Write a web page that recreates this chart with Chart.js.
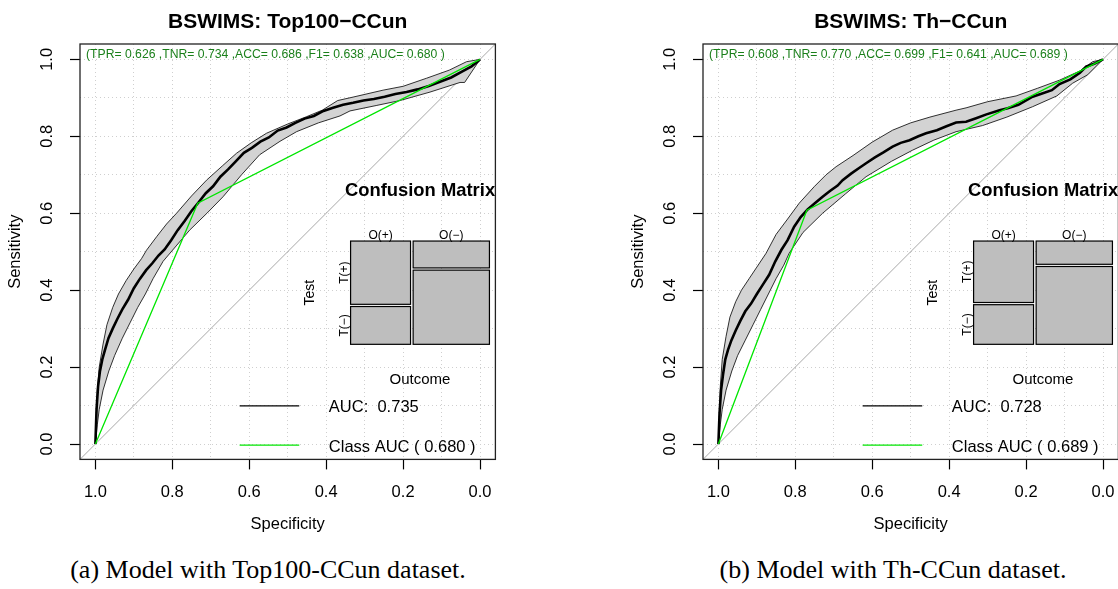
<!DOCTYPE html>
<html>
<head>
<meta charset="utf-8">
<script src="https://cdn.jsdelivr.net/npm/chart.js@4/dist/chart.umd.min.js"></script>
<style>
  html, body { margin: 0; padding: 0; background: #fff; width: 1118px; height: 589px; overflow: hidden; }
  .plot { position: absolute; top: 0; width: 559px; height: 545px; }
  #boxA { left: 0; }
  #boxB { left: 623px; }
  .cap { position: absolute; top: 555px; font-family: "Liberation Serif", "Times New Roman", serif;
         font-size: 26px; line-height: 29px; white-space: nowrap; transform: translateX(-50%); color: #000; }
</style>
</head>
<body>
<div class="plot" id="boxA"><canvas id="rocA" width="559" height="545"></canvas></div>
<div class="plot" id="boxB"><canvas id="rocB" width="559" height="545"></canvas></div>
<div class="cap" style="left:268px">(a) Model with Top100-CCun dataset.</div>
<div class="cap" style="left:893px">(b) Model with Th-CCun dataset.</div>
<script>
// ---- axes ----
var gridVals = [0, 0.1, 0.2, 0.3, 0.4, 0.5, 0.6, 0.7, 0.8, 0.9, 1];
var labelVals = [0, 0.2, 0.4, 0.6, 0.8, 1];

// ---- (a) Top100-CCun ----
var aTitle = 'BSWIMS: Top100\u2212CCun';
var aStats = '(TPR= 0.626 ,TNR= 0.734 ,ACC= 0.686 ,F1= 0.638 ,AUC= 0.680 )';
var aAuc = 'AUC:  0.735';
var aClassAuc = 'Class AUC ( 0.680 )';
var aTpr = 0.626, aTnr = 0.734, aPos = 0.44;
var aSpec = [1, 0.997, 0.993, 0.988, 0.982, 0.975, 0.966, 0.955, 0.943, 0.93, 0.915, 0.9, 0.884, 0.868, 0.852, 0.836, 0.82, 0.803, 0.786, 0.768, 0.75, 0.732, 0.713, 0.694, 0.675, 0.655, 0.635, 0.614, 0.593, 0.571, 0.549, 0.526, 0.503, 0.48, 0.456, 0.432, 0.407, 0.382, 0.356, 0.33, 0.303, 0.276, 0.248, 0.22, 0.191, 0.162, 0.133, 0.104, 0.075, 0.047, 0.022, 0];
var aSens = [0, 0.09, 0.15, 0.19, 0.22, 0.245, 0.275, 0.3, 0.325, 0.35, 0.375, 0.405, 0.43, 0.452, 0.47, 0.49, 0.506, 0.53, 0.556, 0.58, 0.606, 0.628, 0.652, 0.67, 0.695, 0.714, 0.735, 0.757, 0.77, 0.786, 0.797, 0.815, 0.823, 0.835, 0.846, 0.853, 0.866, 0.874, 0.882, 0.887, 0.893, 0.897, 0.903, 0.91, 0.915, 0.922, 0.931, 0.942, 0.953, 0.968, 0.982, 1];
var aUpSpec = [1, 0.995, 0.99, 0.98, 0.97, 0.955, 0.94, 0.92, 0.9, 0.88, 0.867, 0.84, 0.815, 0.789, 0.75, 0.711, 0.67, 0.633, 0.595, 0.555, 0.5, 0.451, 0.41, 0.37, 0.33, 0.252, 0.2, 0.139, 0.08, 0.035, 0];
var aUpSens = [0, 0.14, 0.2, 0.26, 0.31, 0.355, 0.39, 0.425, 0.455, 0.482, 0.504, 0.54, 0.572, 0.6, 0.645, 0.686, 0.723, 0.756, 0.783, 0.808, 0.832, 0.851, 0.868, 0.893, 0.902, 0.92, 0.93, 0.951, 0.972, 0.994, 1];
var aLoSpec = [1, 0.995, 0.99, 0.98, 0.965, 0.95, 0.93, 0.91, 0.89, 0.87, 0.85, 0.824, 0.79, 0.755, 0.71, 0.668, 0.62, 0.573, 0.52, 0.477, 0.42, 0.364, 0.338, 0.27, 0.208, 0.13, 0.052, 0.04, 0];
var aLoSens = [0, 0.05, 0.09, 0.14, 0.19, 0.23, 0.275, 0.315, 0.355, 0.39, 0.43, 0.475, 0.515, 0.556, 0.6, 0.643, 0.7, 0.752, 0.787, 0.812, 0.835, 0.853, 0.866, 0.88, 0.893, 0.915, 0.94, 0.94, 1];

// ---- (b) Th-CCun ----
var bTitle = 'BSWIMS: Th\u2212CCun';
var bStats = '(TPR= 0.608 ,TNR= 0.770 ,ACC= 0.699 ,F1= 0.641 ,AUC= 0.689 )';
var bAuc = 'AUC:  0.728';
var bClassAuc = 'Class AUC ( 0.689 )';
var bTpr = 0.608, bTnr = 0.770, bPos = 0.44;
var bSpec = [1, 0.997, 0.993, 0.988, 0.982, 0.975, 0.966, 0.955, 0.943, 0.93, 0.915, 0.9, 0.884, 0.868, 0.852, 0.836, 0.82, 0.803, 0.786, 0.768, 0.75, 0.729, 0.71, 0.69, 0.677, 0.655, 0.635, 0.616, 0.593, 0.571, 0.547, 0.526, 0.503, 0.48, 0.46, 0.432, 0.407, 0.382, 0.356, 0.33, 0.303, 0.269, 0.248, 0.22, 0.183, 0.162, 0.133, 0.113, 0.085, 0.06, 0.044, 0.02, 0];
var bSens = [0, 0.08, 0.14, 0.18, 0.22, 0.245, 0.27, 0.295, 0.32, 0.345, 0.365, 0.39, 0.415, 0.44, 0.475, 0.505, 0.53, 0.565, 0.59, 0.61, 0.625, 0.643, 0.658, 0.672, 0.686, 0.703, 0.717, 0.73, 0.745, 0.758, 0.773, 0.783, 0.79, 0.8, 0.808, 0.816, 0.826, 0.836, 0.838, 0.847, 0.857, 0.868, 0.873, 0.882, 0.903, 0.91, 0.92, 0.936, 0.948, 0.965, 0.981, 0.99, 1];
var bUpSpec = [1, 0.995, 0.99, 0.98, 0.97, 0.955, 0.94, 0.92, 0.9, 0.876, 0.85, 0.82, 0.79, 0.75, 0.72, 0.694, 0.65, 0.6, 0.547, 0.5, 0.45, 0.382, 0.356, 0.3, 0.226, 0.17, 0.113, 0.06, 0.027, 0];
var bUpSens = [0, 0.15, 0.22, 0.28, 0.33, 0.37, 0.4, 0.43, 0.46, 0.496, 0.545, 0.585, 0.626, 0.67, 0.7, 0.721, 0.75, 0.785, 0.816, 0.835, 0.85, 0.868, 0.874, 0.89, 0.905, 0.925, 0.946, 0.97, 0.994, 1];
var bLoSpec = [1, 0.995, 0.99, 0.98, 0.965, 0.95, 0.93, 0.91, 0.89, 0.87, 0.85, 0.83, 0.816, 0.78, 0.729, 0.67, 0.616, 0.55, 0.495, 0.44, 0.382, 0.313, 0.25, 0.183, 0.12, 0.079, 0.04, 0];
var bLoSens = [0, 0.05, 0.09, 0.14, 0.19, 0.23, 0.27, 0.31, 0.35, 0.39, 0.43, 0.465, 0.496, 0.55, 0.6, 0.65, 0.695, 0.735, 0.764, 0.79, 0.812, 0.828, 0.85, 0.877, 0.905, 0.938, 0.96, 1];

// inset / legend placement in axis units
var cmBox = [0.3365, -0.0245, 0.5277, 0.2592];
var legX = [0.625, 0.47, 0.393];
var legY = [0.099, -0.003];

var FONT = '"Liberation Sans", Arial, Helvetica, sans-serif';

function zip(xs, ys) {
  return xs.map(function(v, i) { return {x: v, y: ys[i]}; });
}

var rDecor = {
  id: 'rDecor',
  afterDraw: function(chart, args, o) {
    var ctx = chart.ctx, a = chart.chartArea, x = chart.scales.x, y = chart.scales.y;
    ctx.save();
    ctx.strokeStyle = '#222';
    ctx.lineWidth = 1.3;
    ctx.strokeRect(a.left, a.top, a.right - a.left, a.bottom - a.top);

    // y tick labels, rotated like R
    ctx.fillStyle = '#000';
    ctx.font = '16.5px ' + FONT;
    ctx.textAlign = 'center';
    ctx.textBaseline = 'middle';
    labelVals.forEach(function(v) {
      ctx.save();
      ctx.translate(a.left - 33, y.getPixelForValue(v));
      ctx.rotate(-Math.PI / 2);
      ctx.fillText(v.toFixed(1), 0, 0);
      ctx.restore();
    });

    // stats line
    ctx.fillStyle = '#1a7f1a';
    ctx.font = '12.2px ' + FONT;
    ctx.textAlign = 'left';
    ctx.fillText(o.stats, a.left + 6, a.top + 11);

    // confusion matrix (mosaic)
    var L = x.getPixelForValue(cmBox[0]), R = x.getPixelForValue(cmBox[1]);
    var T = y.getPixelForValue(cmBox[2]), B = y.getPixelForValue(cmBox[3]);
    var gx = 2.6, gy = 2.2;
    var wPos = (R - L - gx) * o.pos;
    var h = B - T - gy;
    var cells = [
      [L, T, wPos, h * o.tpr],
      [L, T + h * o.tpr + gy, wPos, h * (1 - o.tpr)],
      [L + wPos + gx, T, R - L - gx - wPos, h * (1 - o.tnr)],
      [L + wPos + gx, T + h * (1 - o.tnr) + gy, R - L - gx - wPos, h * o.tnr]
    ];
    ctx.fillStyle = '#bebebe';
    ctx.strokeStyle = '#000';
    ctx.lineWidth = 1.2;
    cells.forEach(function(c) {
      ctx.fillRect(c[0], c[1], c[2], c[3]);
      ctx.strokeRect(c[0], c[1], c[2], c[3]);
    });
    ctx.fillStyle = '#000';
    ctx.textAlign = 'center';
    ctx.font = '12px ' + FONT;
    ctx.fillText('O(+)', L + wPos / 2, T - 5.5);
    ctx.fillText('O(\u2212)', L + wPos + gx + (R - L - gx - wPos) / 2, T - 5.5);
    [['T(+)', T + h * o.tpr / 2], ['T(\u2212)', T + h * o.tpr + gy + h * (1 - o.tpr) / 2]].forEach(function(t) {
      ctx.save();
      ctx.translate(L - 6, t[1]);
      ctx.rotate(-Math.PI / 2);
      ctx.fillText(t[0], 0, 0);
      ctx.restore();
    });
    ctx.font = '14px ' + FONT;
    ctx.save();
    ctx.translate(L - 40, (T + B) / 2);
    ctx.rotate(-Math.PI / 2);
    ctx.fillText('Test', 0, 0);
    ctx.restore();
    ctx.font = '15px ' + FONT;
    ctx.fillText('Outcome', (L + R) / 2, B + 36);
    ctx.font = 'bold 18.4px ' + FONT;
    ctx.fillText('Confusion Matrix', (L + R) / 2, T - 50);

    // legend
    var ds = chart.data.datasets;
    [ds[1], ds[0]].forEach(function(d, i) {
      var py = y.getPixelForValue(legY[i]);
      ctx.strokeStyle = d.borderColor;
      ctx.lineWidth = 1.2;
      ctx.beginPath();
      ctx.moveTo(x.getPixelForValue(legX[0]), py);
      ctx.lineTo(x.getPixelForValue(legX[1]), py);
      ctx.stroke();
      ctx.fillStyle = '#000';
      ctx.font = '16.5px ' + FONT;
      ctx.textAlign = 'left';
      ctx.fillText(d.label, x.getPixelForValue(legX[2]), py + 2);
    });
    ctx.restore();
  }
};

function isMajor(v) {
  return Math.round(v * 10) % 2 === 0;
}

function axis(title, reverse, isX) {
  return {
    type: 'linear',
    reverse: reverse,
    min: -0.04,
    max: 1.04,
    afterBuildTicks: function(ax) {
      ax.ticks = gridVals.map(function(v) { return {value: v}; });
    },
    afterFit: function(s) {
      if (isX) s.height = 85.6; else s.width = 80;
    },
    ticks: {
      autoSkip: false,
      maxRotation: 0,
      padding: 13,
      color: '#000',
      font: {family: FONT, size: 16.5},
      callback: function(v) { return (isX && isMajor(v)) ? v.toFixed(1) : ''; }
    },
    grid: {
      color: '#cfcfcf',
      lineWidth: 1,
      tickLength: 10,
      tickWidth: 1.2,
      tickColor: function(c) { return (c.tick && isMajor(c.tick.value)) ? '#000' : 'rgba(0,0,0,0)'; }
    },
    border: {display: false, dash: [1, 3]},
    title: {
      display: true,
      text: title,
      color: '#000',
      font: {family: FONT, size: 16.5, lineHeight: 1.2},
      padding: isX ? {top: 0, bottom: 10.4} : {top: 5.4, bottom: 0}
    }
  };
}

function makeRoc(id, d) {
  return new Chart(document.getElementById(id), {
    type: 'scatter',
    data: {
      datasets: [
        {label: d.classAuc, data: zip([1, d.tnr, 0], [0, d.tpr, 1]), showLine: true,
         borderColor: '#00e600', borderWidth: 1.3, order: 0},
        {label: d.auc, data: zip(d.spec, d.sens), showLine: true,
         borderColor: '#000', borderWidth: 2.6, order: 1},
        {label: 'CI', data: zip(d.upSpec, d.upSens).concat(zip(d.loSpec, d.loSens).reverse()), showLine: true,
         borderColor: '#000', borderWidth: 0.8, backgroundColor: '#d3d3d3', fill: 'shape', order: 2},
        {label: 'chance', data: zip([1.04, -0.04], [-0.04, 1.04]), showLine: true,
         borderColor: '#a8a8a8', borderWidth: 1, order: 3}
      ]
    },
    options: {
      responsive: false,
      animation: false,
      events: [],
      elements: {point: {radius: 0}, line: {tension: 0}},
      layout: {padding: {left: 0, right: 63.6, top: 0, bottom: 0}},
      scales: {
        x: axis('Specificity', true, true),
        y: axis('Sensitivity', false, false)
      },
      plugins: {
        legend: {display: false},
        tooltip: {enabled: false},
        title: {
          display: true,
          text: d.title,
          fullSize: false,
          color: '#000',
          font: {family: FONT, size: 21, weight: 'bold', lineHeight: 1.2},
          padding: {top: 9.2, bottom: 9.6}
        },
        rDecor: {stats: d.stats, tpr: d.tpr, tnr: d.tnr, pos: d.pos}
      }
    },
    plugins: [rDecor]
  });
}

makeRoc('rocA', {title: aTitle, stats: aStats, auc: aAuc, classAuc: aClassAuc, tpr: aTpr, tnr: aTnr, pos: aPos,
  spec: aSpec, sens: aSens, upSpec: aUpSpec, upSens: aUpSens, loSpec: aLoSpec, loSens: aLoSens});
makeRoc('rocB', {title: bTitle, stats: bStats, auc: bAuc, classAuc: bClassAuc, tpr: bTpr, tnr: bTnr, pos: bPos,
  spec: bSpec, sens: bSens, upSpec: bUpSpec, upSens: bUpSens, loSpec: bLoSpec, loSens: bLoSens});
</script>
</body>
</html>
